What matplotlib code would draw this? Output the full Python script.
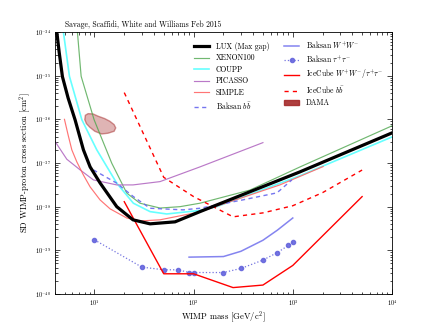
import matplotlib
matplotlib.use("Agg")
import matplotlib.pyplot as plt
from matplotlib.patches import Patch

plt.rcParams["font.family"] = "serif"
plt.rcParams["font.serif"] = ["cmr10", "DejaVu Serif"]
plt.rcParams["mathtext.fontset"] = "cm"
plt.rcParams["axes.formatter.use_mathtext"] = True

# axis ticks (decades)
x_ticks = [1e1, 1e2, 1e3, 1e4]
y_ticks = [1e-40, 1e-39, 1e-38, 1e-37, 1e-36, 1e-35, 1e-34]

# LUX (max gap)
lux_m = [4.18, 4.41, 4.76, 5.43, 6.39, 7.75, 9.05, 11.4, 16.8, 24.5, 36.4, 65, 116, 1178, 10000]
lux_s = [1e-34, 3.49e-35, 9.5e-36, 3.09e-36, 9.7e-37, 2.0e-37, 8.15e-38, 3.5e-38, 1.0e-38,
         4.99e-39, 4.04e-39, 4.49e-39, 7.7e-39, 6.25e-38, 4.89e-37]

# XENON100
xe_m = [6.74, 7.35, 9.93, 14.96, 21.2, 28.8, 45.9, 73, 116, 370, 1178, 10000]
xe_s = [1e-34, 9.7e-36, 9.8e-37, 9.9e-38, 2.04e-38, 1.2e-38, 9.3e-39, 1.0e-38, 1.2e-38,
        2.4e-38, 8.1e-38, 7.1e-37]

# COUPP
co_m = [4.87, 5.60, 7.47, 10.57, 16.8, 24.7, 36.4, 53.6, 116, 171, 1178, 10000]
co_s = [1e-34, 9.7e-36, 9.8e-37, 2.0e-37, 3.45e-38, 1.2e-38, 7.7e-39, 6.8e-39, 8.2e-39,
        1.0e-38, 5.1e-38, 3.95e-37]

# PICASSO
pi_m = [4.02, 5.27, 7.18, 9.77, 16.8, 24.5, 45.9, 116, 500]
pi_s = [3.09e-37, 1.22e-37, 6.95e-38, 4.1e-38, 3.15e-38, 3.15e-38, 3.75e-38, 8.15e-38, 2.93e-37]

# SIMPLE
si_m = [4.99, 5.43, 5.92, 6.65, 7.75, 9.05, 11.4, 14.4, 21.2, 28.9, 45.9, 116, 741, 2023]
si_s = [1.0e-36, 4.4e-37, 2.0e-37, 1.06e-37, 5.3e-38, 2.84e-38, 1.43e-38, 8.9e-39, 5.5e-39,
        4.7e-39, 5.0e-39, 7.6e-39, 3.15e-38, 8.3e-38]

# Baksan b bbar
bb_m = [9.77, 16.8, 24.7, 36.4, 78.2, 116, 314, 692, 979]
bb_s = [6.95e-38, 3.45e-38, 1.7e-38, 9.2e-39, 8.45e-39, 9.2e-39, 1.43e-38, 2.07e-38, 4.1e-38]

# Baksan W+W-
bw_m = [90, 200, 300, 500, 700, 1000]
bw_s = [6.98e-40, 7.2e-40, 9.5e-40, 1.7e-39, 2.9e-39, 5.5e-39]

# Baksan tau+tau-
bt_m = [10, 30, 50, 70, 90, 100, 200, 300, 500, 700, 900, 1000]
bt_s = [1.74e-39, 4.13e-40, 3.58e-40, 3.58e-40, 3.1e-40, 3.1e-40, 3.1e-40, 3.84e-40,
        5.97e-40, 8.9e-40, 1.29e-39, 1.54e-39]

# IceCube W+W- / tau+tau-
iw_m = [20, 50, 100, 250, 500, 1000, 5000]
iw_s = [1.3e-38, 2.9e-40, 2.9e-40, 1.4e-40, 1.6e-40, 4.5e-40, 1.7e-38]

# IceCube b bbar
ib_m = [20, 50, 100, 250, 500, 1000, 2000, 5000]
ib_s = [4.1e-36, 4.7e-38, 1.7e-38, 5.85e-39, 7.2e-39, 1.05e-38, 2.1e-38, 6.9e-38]

# DAMA region (boundary)
dama_m = [8.00, 8.11, 8.64, 9.70, 10.9, 12.7, 14.3, 15.8, 16.4, 15.8, 13.7, 11.8, 10.1, 8.99, 8.31]
dama_s = [9.84e-37, 1.24e-36, 1.35e-36, 1.33e-36, 1.18e-36, 1.04e-36, 9.05e-37, 7.57e-37,
          6.36e-37, 5.34e-37, 4.81e-37, 4.63e-37, 5.34e-37, 6.59e-37, 7.97e-37]

fig, ax = plt.subplots(figsize=(4.36, 3.27), dpi=100)

ax.plot(lux_m, lux_s, color="black", lw=2.3, label="LUX (Max gap)", zorder=5)
ax.plot(xe_m, xe_s, color="#4da64d", lw=0.85, alpha=0.8, label="XENON100")
ax.plot(co_m, co_s, color="#66ffff", lw=1.2, label="COUPP")
ax.plot(pi_m, pi_s, color="#b36bc2", lw=0.85, alpha=0.9, label="PICASSO")
ax.plot(si_m, si_s, color="#ff6666", lw=0.85, alpha=0.9, label="SIMPLE")
ax.plot(bb_m, bb_s, color="#6666ee", lw=1.0, ls=(0, (3, 2.5)), alpha=0.9,
        label=r"Baksan $b\bar{b}$")
ax.plot(bw_m, bw_s, color="#7777ee", lw=1.1, alpha=0.9, label=r"Baksan $W^{+}W^{-}$")
ax.plot(bt_m, bt_s, color="#6666dd", lw=0.9, ls=":", marker="o", ms=3, alpha=0.9,
        label=r"Baksan $\tau^{+}\tau^{-}$")
ax.plot(iw_m, iw_s, color="red", lw=1.0, label=r"IceCube $W^{+}W^{-}/\tau^{+}\tau^{-}$")
ax.plot(ib_m, ib_s, color="red", lw=1.0, ls=(0, (3, 3)), label=r"IceCube $b\bar{b}$")
ax.fill(dama_m, dama_s, facecolor="#a52a2a", alpha=0.35, edgecolor="none")
ax.fill(dama_m, dama_s, facecolor="none", edgecolor="#a52a2a", alpha=0.5, lw=1.0,
        label="DAMA")

ax.set_xscale("log")
ax.set_yscale("log")
ax.set_xticks(x_ticks)
ax.set_yticks(y_ticks)
ax.set_xlim(4, 1e4)
ax.set_ylim(1e-40, 1e-34)
ax.tick_params(which="both", direction="in", top=True, right=True, labelsize=4.5,
               width=0.5, pad=3)
ax.tick_params(which="major", length=3.5)
ax.tick_params(which="minor", length=1.8)
for sp in ax.spines.values():
    sp.set_linewidth(0.6)

ax.set_xlabel(r"WIMP mass [GeV/c$^2$]", fontsize=6.2, labelpad=1)
ax.set_ylabel(r"SD WIMP-proton cross section [cm$^2$]", fontsize=6.2, labelpad=1.5)
ax.text(0.03, 1.012, "Savage, Scaffidi, White and Williams Feb 2015",
        transform=ax.transAxes, fontsize=5.5, ha="left", va="bottom")

# legend, DAMA shown as a solid patch
handles, labels = ax.get_legend_handles_labels()
handles[-1] = Patch(facecolor="#a52a2a", edgecolor="#a52a2a", alpha=0.9)
ax.legend(handles, labels, ncol=2, frameon=False, fontsize=5.5, loc="upper right",
          bbox_to_anchor=(0.995, 0.998), handlelength=2.0, labelspacing=0.42,
          columnspacing=1.9, handletextpad=0.9)

fig.subplots_adjust(left=0.126, right=0.899, bottom=0.101, top=0.902)
fig.savefig("out.png", dpi=100)
